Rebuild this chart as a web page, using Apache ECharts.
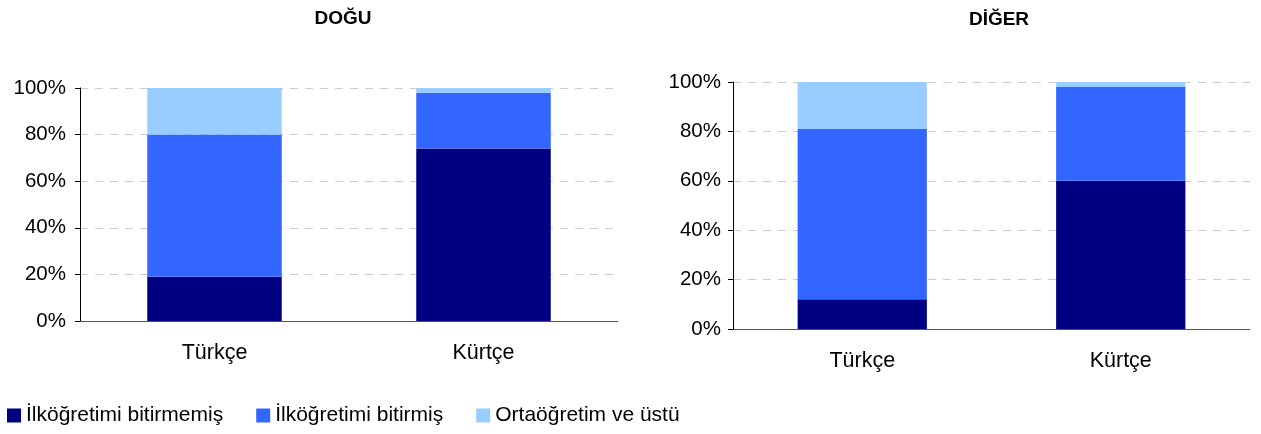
<!DOCTYPE html>
<html>
<head>
<meta charset="utf-8">
<script src="https://cdn.jsdelivr.net/npm/echarts@6/dist/echarts.min.js"></script>
<style>
  html, body { margin: 0; padding: 0; background: #fff; }
  #chart { width: 1261px; height: 434px; }
</style>
</head>
<body>
<div id="chart"></div>
<script>
// kategoriler ve başlıklar
const categories = ['Türkçe', 'Kürtçe']
const panelTitles = ['DOĞU', 'DİĞER']
const seriesNames = ['İlköğretimi bitirmemiş', 'İlköğretimi bitirmiş', 'Ortaöğretim ve üstü']
const yTicks = [0, 20, 40, 60, 80, 100]

// DOĞU (%)
const doguBitirmemis = [19, 74]
const doguBitirmis = [61, 24]
const doguOrta = [20, 2]

// DİĞER (%)
const digerBitirmemis = [12, 60]
const digerBitirmis = [69, 38]
const digerOrta = [19, 2]

const colors = ['#000080', '#3366FF', '#99CCFF']
const font = 'Liberation Sans, Arial, sans-serif'

const chart = echarts.init(document.getElementById('chart'))

function xAxisFor(gridIndex) {
    return {
        type: 'category',
        gridIndex: gridIndex,
        data: categories,
        axisTick: { show: false },
        axisLine: { lineStyle: { color: '#555', width: 1 } },
        axisLabel: { color: '#000', fontSize: 21.5, fontFamily: font, margin: 21 }
    }
}

function yAxisFor(gridIndex, margin) {
    return {
        type: 'value',
        gridIndex: gridIndex,
        min: yTicks[0],
        max: yTicks[yTicks.length - 1],
        interval: 20,
        axisLine: { show: true, lineStyle: { color: '#000', width: 1 } },
        axisTick: { show: true, length: 5, lineStyle: { color: '#000' } },
        axisLabel: { color: '#000', fontSize: 20.5, fontFamily: font, margin: margin, formatter: '{value}%' },
        //虚线网格
        splitLine: { show: true, lineStyle: { color: '#cccccc', type: [8, 7], width: 1 } }
    }
}

function bar(name, data, idx, colorIdx) {
    return {
        name: name,
        type: 'bar',
        stack: 'p' + idx,
        xAxisIndex: idx,
        yAxisIndex: idx,
        barWidth: '50%',
        data: data,
        itemStyle: { color: colors[colorIdx] }
    }
}

chart.setOption({
    animation: false,
    title: [
        { text: panelTitles[0], left: 338, top: 4, textAlign: 'center',
          textStyle: { fontSize: 19, fontWeight: 'bold', color: '#000', fontFamily: font } },
        { text: panelTitles[1], left: 994, top: 5, textAlign: 'center',
          textStyle: { fontSize: 19, fontWeight: 'bold', color: '#000', fontFamily: font } }
    ],
    legend: {
        data: seriesNames,
        left: 2,
        top: 400,
        icon: 'rect',
        itemWidth: 14,
        itemHeight: 14,
        itemGap: 33,
        textStyle: { fontSize: 21, color: '#000', fontFamily: font, padding: [0, 0, 0, 0] }
    },
    //布局
    grid: [
        { left: 80, right: 643, top: 88, bottom: 113 },
        { left: 733, right: 11, top: 82, bottom: 105 }
    ],
    xAxis: [xAxisFor(0), xAxisFor(1)],
    yAxis: [yAxisFor(0, 14), yAxisFor(1, 12)],
    series: [
        bar(seriesNames[0], doguBitirmemis, 0, 0),
        bar(seriesNames[1], doguBitirmis, 0, 1),
        bar(seriesNames[2], doguOrta, 0, 2),
        bar(seriesNames[0], digerBitirmemis, 1, 0),
        bar(seriesNames[1], digerBitirmis, 1, 1),
        bar(seriesNames[2], digerOrta, 1, 2)
    ]
})
</script>
</body>
</html>
